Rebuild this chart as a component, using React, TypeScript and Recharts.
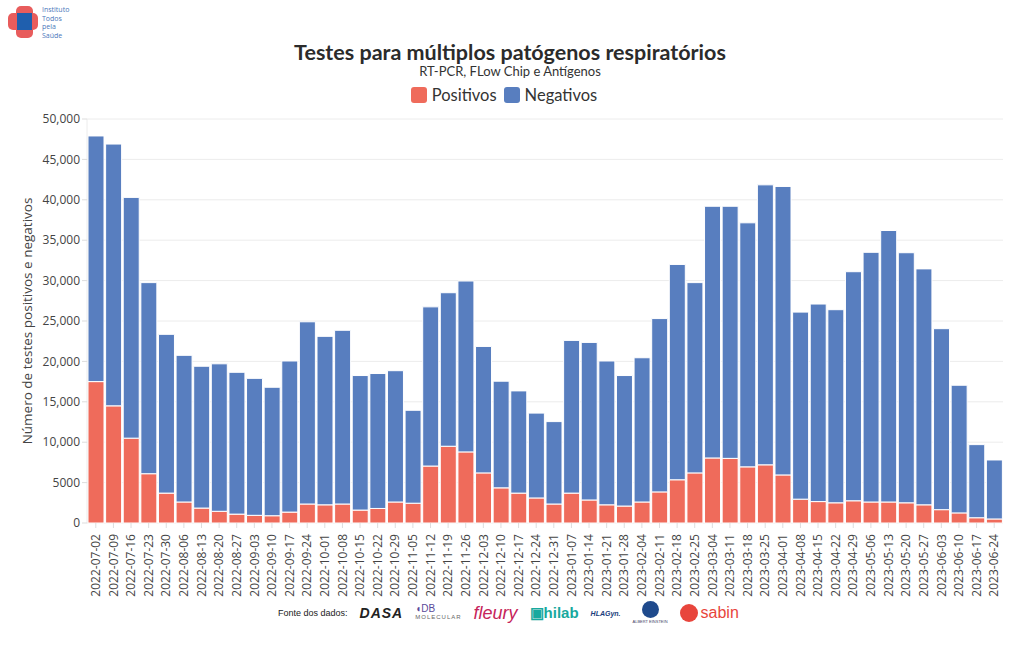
import { BarChart, Bar, XAxis, YAxis, CartesianGrid } from "recharts";

const semanas = [
  "2022-07-02", "2022-07-09", "2022-07-16", "2022-07-23", "2022-07-30", "2022-08-06",
  "2022-08-13", "2022-08-20", "2022-08-27", "2022-09-03", "2022-09-10", "2022-09-17",
  "2022-09-24", "2022-10-01", "2022-10-08", "2022-10-15", "2022-10-22", "2022-10-29",
  "2022-11-05", "2022-11-12", "2022-11-19", "2022-11-26", "2022-12-03", "2022-12-10",
  "2022-12-17", "2022-12-24", "2022-12-31", "2023-01-07", "2023-01-14", "2023-01-21",
  "2023-01-28", "2023-02-04", "2023-02-11", "2023-02-18", "2023-02-25", "2023-03-04",
  "2023-03-11", "2023-03-18", "2023-03-25", "2023-04-01", "2023-04-08", "2023-04-15",
  "2023-04-22", "2023-04-29", "2023-05-06", "2023-05-13", "2023-05-20", "2023-05-27",
  "2023-06-03", "2023-06-10", "2023-06-17", "2023-06-24",
];

const positivos = [
  17500, 14500, 10500, 6100, 3700, 2600, 1850, 1450, 1100, 950, 900, 1350,
  2350, 2250, 2350, 1600, 1800, 2600, 2450, 7050, 9500, 8800, 6200, 4350,
  3700, 3100, 2350, 3700, 2850, 2250, 2100, 2600, 3850, 5350, 6200, 8050,
  8000, 6950, 7200, 5950, 2950, 2650, 2500, 2750, 2600, 2600, 2500, 2250,
  1650, 1250, 650, 500,
];

const negativos = [
  30400, 32400, 29800, 23650, 19650, 18150, 17550, 18250, 17550, 16950, 15900, 18700,
  22550, 20850, 21500, 16650, 16700, 16250, 11500, 19700, 19000, 21150, 15650, 13200,
  12650, 10500, 10200, 18900, 19500, 17800, 16150, 17850, 21450, 26650, 23550, 31150,
  31200, 30200, 34650, 35700, 23150, 24450, 23900, 28350, 30900, 33600, 30950, 29200,
  22400, 15800, 9050, 7300,
];

const yTicks = [0, 5000, 10000, 15000, 20000, 25000, 30000, 35000, 40000, 45000, 50000];

const data = semanas.map((semana, i) => ({
  semana,
  positivos: positivos[i],
  negativos: negativos[i],
}));

const RED = "#ef6b5b";
const BLUE = "#587ebf";
const TICK_FONT = "'Open Sans', 'DejaVu Sans', sans-serif";

function formatY(v: number) {
  return v >= 10000 ? v.toLocaleString("en-US") : String(v);
}

function DateTick(props: any) {
  const { x, y, payload } = props;
  return (
    <text
      x={x}
      y={y + 4}
      transform={`rotate(-90, ${x}, ${y + 4})`}
      textAnchor="end"
      dy="0.35em"
      fill="#444"
      fontSize={12}
      fontFamily={TICK_FONT}
    >
      {payload.value}
    </text>
  );
}

function Logo() {
  return (
    <div style={{ position: "absolute", left: 8, top: 6, display: "flex", gap: 4 }}>
      <div style={{ position: "relative", width: 30, height: 32 }}>
        <div style={{ position: "absolute", left: 8, top: 0, width: 17, height: 32, background: "#e85c5c", borderRadius: 5 }} />
        <div style={{ position: "absolute", left: 0, top: 7, width: 30, height: 17, background: "#e85c5c", borderRadius: 5 }} />
        <div style={{ position: "absolute", left: 9, top: 7, width: 15, height: 17, background: "#1f5fae" }} />
      </div>
      <div style={{ display: "flex", flexDirection: "column", fontFamily: "'Open Sans', sans-serif", fontSize: 7, color: "#4a78bb" }}>
        <span style={{ height: 8.5, lineHeight: "8.5px" }}>Instituto</span>
        <span style={{ height: 8.5, lineHeight: "8.5px" }}>Todos</span>
        <span style={{ height: 8.5, lineHeight: "8.5px" }}>pela</span>
        <span style={{ height: 8.5, lineHeight: "8.5px" }}>Saúde</span>
      </div>
    </div>
  );
}

function Footer() {
  const base = { fontFamily: "'Liberation Sans', Arial, sans-serif" } as const;
  return (
    <div style={{ position: "absolute", left: 278, top: 597, height: 32, display: "flex", alignItems: "center", gap: 12, ...base }}>
      <span style={{ fontSize: 9, color: "#222" }}>Fonte dos dados:</span>
      <span style={{ fontSize: 14, fontWeight: 700, color: "#222", letterSpacing: 1, fontStyle: "italic" }}>DASA</span>
      <span style={{ display: "flex", flexDirection: "column", lineHeight: "9px" }}>
        <span style={{ fontSize: 10, color: "#5a4a9a" }}>◖DB</span>
        <span style={{ fontSize: 6, color: "#666", letterSpacing: 1 }}>MOLECULAR</span>
      </span>
      <span style={{ fontSize: 18, color: "#c6245a", fontStyle: "italic" }}>fleury</span>
      <span style={{ fontSize: 15, fontWeight: 700, color: "#18a99e" }}>▣hilab</span>
      <span style={{ fontSize: 7, fontWeight: 700, color: "#1a3d7c", fontStyle: "italic" }}>HLAGyn.</span>
      <span style={{ display: "flex", flexDirection: "column", alignItems: "center", lineHeight: "7px" }}>
        <span style={{ width: 17, height: 17, borderRadius: 9, background: "#1f4a8c" }} />
        <span style={{ fontSize: 4, color: "#446" }}>ALBERT EINSTEIN</span>
      </span>
      <span style={{ display: "flex", alignItems: "center", gap: 3 }}>
        <span style={{ width: 18, height: 18, borderRadius: 9, background: "#e8453c" }} />
        <span style={{ fontSize: 16, color: "#e8453c" }}>sabin</span>
      </span>
    </div>
  );
}

export default function App() {
  return (
    <div style={{ position: "absolute", left: 0, top: 0, width: 1020, height: 650, background: "#fff", overflow: "hidden" }}>
      <Logo />
      <div style={{ position: "absolute", left: 0, top: 41, width: 1020, textAlign: "center", fontFamily: "Lato, 'Open Sans', sans-serif", fontWeight: 700, fontSize: 21.5, color: "#2b2b2b", lineHeight: "22px" }}>
        Testes para múltiplos patógenos respiratórios
      </div>
      <div style={{ position: "absolute", left: 0, top: 63, width: 1020, textAlign: "center", fontFamily: "Lato, 'Open Sans', sans-serif", fontSize: 13, color: "#333", lineHeight: "16px" }}>
        RT-PCR, FLow Chip e Antígenos
      </div>
      <div style={{ position: "absolute", left: 0, top: 85, width: 1008, display: "flex", justifyContent: "center", gap: 7, fontFamily: "Lato, 'Open Sans', sans-serif", fontSize: 16.5, color: "#333", lineHeight: "20px" }}>
        <span style={{ display: "flex", alignItems: "center", gap: 5 }}>
          <span style={{ width: 16, height: 16, borderRadius: 3, background: RED }} />
          Positivos
        </span>
        <span style={{ display: "flex", alignItems: "center", gap: 5 }}>
          <span style={{ width: 16, height: 16, borderRadius: 3, background: BLUE }} />
          Negativos
        </span>
      </div>
      <div style={{ position: "absolute", left: 27, top: 321, transform: "translate(-50%, -50%) rotate(-90deg)", whiteSpace: "nowrap", fontFamily: TICK_FONT, fontSize: 13.5, color: "#444" }}>
        Número de testes positivos e negativos
      </div>
      <div style={{ position: "absolute", left: 0, top: 0 }}>
        <BarChart
          width={1020}
          height={600}
          data={data}
          margin={{ top: 119, right: 17, bottom: 0, left: 0 }}
          barCategoryGap={1}
        >
          <CartesianGrid stroke="#ececec" vertical={false} />
          <XAxis
            dataKey="semana"
            interval={0}
            height={77}
            tick={<DateTick />}
            tickLine={{ stroke: "#ddd" }}
            tickSize={5}
            axisLine={false}
          />
          <YAxis
            width={87}
            domain={[0, 50000]}
            ticks={yTicks}
            tickFormatter={formatY}
            tick={{ fill: "#444", fontSize: 12, fontFamily: TICK_FONT }}
            tickLine={{ stroke: "#ddd" }}
            tickSize={5}
            axisLine={{ stroke: "#ececec" }}
            interval={0}
          />
          <Bar dataKey="positivos" stackId="a" fill={RED} stroke="#fff" strokeWidth={1} isAnimationActive={false} />
          <Bar dataKey="negativos" stackId="a" fill={BLUE} stroke="#fff" strokeWidth={1} isAnimationActive={false} />
        </BarChart>
      </div>
      <Footer />
    </div>
  );
}
